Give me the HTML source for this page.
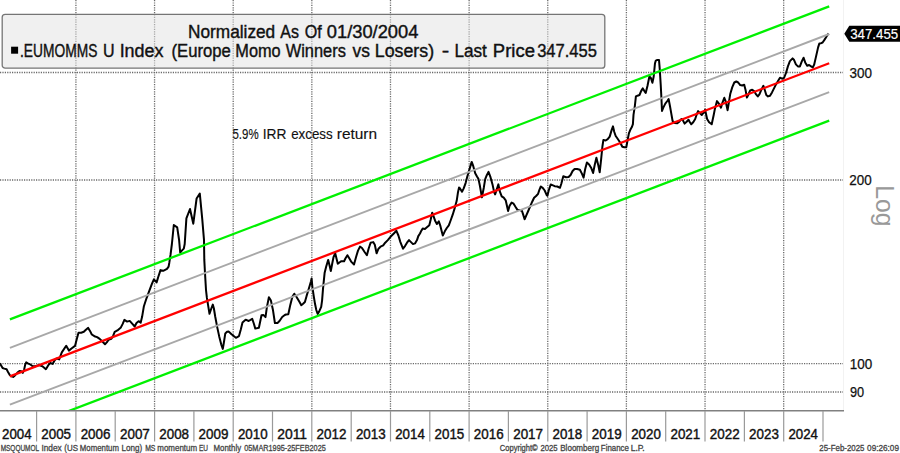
<!DOCTYPE html>
<html><head><meta charset="utf-8"><style>html,body{margin:0;padding:0;background:#fff;width:900px;height:453px;overflow:hidden}svg{display:block}</style></head><body><svg width="900" height="453" viewBox="0 0 900 453" font-family="Liberation Sans, sans-serif"><g stroke="#6a6a6a" stroke-width="1.3" stroke-dasharray="1.2 1.2"><line x1="0" y1="72.5" x2="844" y2="72.5"/><line x1="0" y1="180.0" x2="844" y2="180.0"/><line x1="0" y1="363.6" x2="844" y2="363.6"/><line x1="0" y1="392.0" x2="844" y2="392.0"/><line x1="75.92" y1="0" x2="75.92" y2="411"/><line x1="154.56" y1="0" x2="154.56" y2="411"/><line x1="233.2" y1="0" x2="233.2" y2="411"/><line x1="311.84" y1="0" x2="311.84" y2="411"/><line x1="390.48" y1="0" x2="390.48" y2="411"/><line x1="469.12" y1="0" x2="469.12" y2="411"/><line x1="547.76" y1="0" x2="547.76" y2="411"/><line x1="626.4" y1="0" x2="626.4" y2="411"/><line x1="705.04" y1="0" x2="705.04" y2="411"/><line x1="783.68" y1="0" x2="783.68" y2="411"/></g><line x1="843.5" y1="0" x2="843.5" y2="411" stroke="#f2f2f2" stroke-width="1"/><path d="M0.0,363.3 1.0,365.3 2.6,368.0 4.3,368.6 6.6,369.3 8.3,372.6 9.9,375.2 11.3,376.2 13.2,376.9 15.2,375.2 17.5,372.6 19.5,370.9 21.2,371.3 22.8,372.9 24.2,369.3 25.2,364.6 26.2,362.3 27.8,363.3 30.0,364.3 32.7,366.2 35.3,366.2 38.9,365.1 42.4,366.2 45.9,369.2 48.6,364.7 50.3,363.0 52.6,363.9 54.7,360.3 56.5,358.6 59.2,359.4 61.8,352.4 66.2,345.8 68.9,350.6 71.5,348.5 75.0,345.9 76.8,338.9 78.5,332.7 81.2,332.7 83.8,331.8 85.9,329.7 88.2,327.9 90.0,330.9 91.8,334.5 94.4,336.2 97.1,337.1 99.7,338.9 102.4,341.5 105.0,344.2 106.8,342.4 108.6,339.8 111.2,338.9 113.0,336.2 114.7,331.8 117.4,330.4 120.9,327.4 122.7,323.9 124.4,319.8 127.1,321.6 129.7,320.9 132.4,323.9 134.7,326.5 136.5,323.0 138.6,321.2 140.7,322.6 142.1,316.8 143.9,306.2 146.5,298.3 149.2,291.2 152.0,283.7 153.9,279.3 156.6,282.4 158.4,276.5 160.5,270.1 163.2,270.8 167.0,268.9 168.6,266.6 169.3,262.7 170.5,255.0 171.9,244.0 173.8,225.0 177.2,227.4 179.1,240.0 180.2,252.6 181.8,250.6 183.8,248.6 184.7,244.0 186.4,218.4 190.0,209.0 193.3,223.7 196.6,198.5 199.8,193.6 202.3,219.7 204.0,240.0 204.3,259.9 205.0,273.1 206.0,290.0 206.9,297.9 208.2,305.9 209.5,313.8 211.3,308.5 212.8,304.6 213.9,308.5 215.2,316.5 217.2,327.1 219.2,336.4 221.2,344.3 222.8,348.9 223.8,343.0 225.3,333.4 227.0,331.8 228.8,331.6 231.5,334.3 235.9,337.8 239.0,336.1 240.8,329.5 242.5,322.4 245.6,319.7 248.7,321.0 252.2,318.8 253.8,323.5 255.3,328.6 258.9,327.7 261.5,315.3 263.3,314.9 265.5,317.1 266.9,307.1 268.9,297.2 270.9,300.5 272.9,309.7 274.9,323.0 277.5,323.0 279.5,321.0 282.2,317.0 284.8,315.0 286.0,314.5 288.3,314.3 290.3,304.9 292.3,296.9 294.3,293.7 296.7,297.2 299.4,301.8 301.3,305.2 303.1,303.8 304.9,302.1 306.6,295.9 308.8,288.8 311.0,281.3 311.6,278.5 312.4,287.1 313.7,295.9 315.0,303.8 316.3,310.0 317.7,314.0 319.0,311.8 321.2,306.9 322.1,300.3 323.0,288.8 324.6,273.1 326.2,266.5 328.2,259.9 329.5,265.2 330.8,271.1 332.2,263.8 333.5,257.2 335.2,253.2 336.5,258.5 337.8,263.8 339.4,262.5 341.4,261.2 344.1,261.2 345.4,258.5 347.4,255.2 349.4,258.5 351.4,261.9 354.0,264.5 356.0,257.2 358.0,250.6 360.0,246.6 362.0,248.0 364.6,252.0 366.9,255.3 368.6,248.7 370.6,242.7 373.2,242.1 374.8,244.7 376.6,253.3 378.5,248.7 380.5,246.7 383.2,245.4 385.2,242.7 387.8,240.1 390.5,236.8 393.8,233.5 396.4,230.8 398.4,235.5 400.4,242.1 403.0,248.7 405.0,246.1 407.0,242.7 409.0,240.1 411.0,242.1 413.0,244.1 415.0,243.4 417.0,240.1 418.3,236.1 420.0,233.5 421.0,231.3 422.7,228.6 424.9,229.0 426.9,227.3 429.3,225.3 430.6,220.0 432.2,212.7 433.5,216.1 435.1,220.7 436.9,224.0 438.8,221.4 440.2,225.3 441.5,230.6 442.8,235.6 444.8,231.3 446.8,228.0 448.8,225.3 450.8,220.0 452.7,214.7 454.7,208.1 456.7,200.8 458.0,192.2 459.0,187.6 460.0,188.4 462.0,191.7 463.7,188.4 465.6,183.1 467.3,176.5 469.3,169.9 471.7,161.9 473.2,165.9 475.2,173.2 477.0,176.5 478.5,179.1 479.9,185.8 481.9,197.3 483.8,187.7 485.2,179.1 486.5,175.8 488.5,171.9 490.5,177.2 492.5,184.4 494.2,192.4 495.1,194.4 497.1,188.4 498.4,184.4 499.7,191.1 501.7,196.4 503.7,197.7 505.7,200.3 508.1,211.0 509.6,205.7 511.6,202.6 513.6,203.7 515.6,207.0 517.6,210.1 520.2,210.1 522.0,211.0 523.5,215.6 524.6,219.3 526.2,215.6 528.2,211.0 530.2,206.4 532.2,201.7 534.1,197.7 536.1,196.0 538.1,193.8 539.4,189.8 540.8,186.5 542.7,187.8 544.7,190.5 546.7,195.1 547.4,195.8 548.7,190.5 550.7,184.5 552.4,185.2 554.7,186.2 557.3,186.5 560.0,187.8 561.3,183.8 563.3,176.3 566.0,177.2 568.6,177.0 570.6,175.0 572.6,171.0 574.6,169.0 577.2,169.0 579.9,169.7 581.9,173.6 583.6,177.6 585.2,169.0 586.9,162.4 589.1,164.4 591.1,167.7 593.1,173.0 594.7,165.0 596.4,157.7 598.4,165.7 599.7,172.3 601.1,159.7 602.4,146.5 603.4,139.9 605.7,140.5 607.7,139.2 609.7,136.6 611.7,129.9 613.0,126.4 614.3,132.0 615.7,136.0 617.3,138.3 620.3,142.7 622.3,146.7 624.3,147.3 626.3,147.3 627.6,140.0 628.9,133.4 630.2,130.1 632.0,126.8 632.9,124.1 633.5,114.9 634.9,105.6 635.9,96.4 637.5,95.7 639.5,95.0 641.1,91.1 642.8,88.4 644.4,91.1 645.7,93.0 647.5,85.8 649.4,76.5 650.8,77.8 652.4,82.8 653.7,76.5 655.0,63.2 655.8,60.6 657.4,59.9 659.0,59.9 659.8,69.9 660.7,84.4 661.4,97.7 662.0,110.9 663.3,107.6 665.3,103.6 667.3,101.0 668.6,99.0 670.0,106.3 671.3,113.7 672.6,121.0 674.6,123.0 677.3,123.2 679.3,121.7 681.3,119.0 682.6,119.7 684.6,123.6 686.6,121.7 688.5,119.7 689.9,122.3 691.2,124.3 693.2,122.3 695.2,119.0 696.5,115.0 698.1,111.1 699.8,113.0 701.8,115.0 703.8,112.4 705.1,109.7 707.1,119.0 709.1,122.3 711.7,124.3 713.7,115.0 715.0,108.4 717.0,101.1 719.0,103.8 721.0,107.7 722.3,103.1 724.3,97.8 725.6,101.1 727.6,110.2 729.0,101.7 730.3,93.7 732.3,87.1 734.3,82.5 736.3,81.5 738.2,82.5 740.2,85.1 742.2,85.5 744.2,84.7 745.5,89.7 746.9,97.6 748.2,95.0 750.2,90.4 752.2,89.7 754.1,91.1 756.1,94.4 757.8,96.4 759.4,94.4 761.4,89.7 763.4,85.8 764.7,89.7 766.3,95.0 768.0,96.4 770.0,95.7 772.0,92.4 774.0,88.4 776.0,84.4 778.0,81.1 780.0,77.7 782.0,78.7 784.0,78.0 786.0,73.0 787.9,66.4 789.9,61.1 792.6,58.4 793.9,59.7 795.9,64.4 797.9,66.4 799.9,66.4 801.9,61.1 803.6,57.7 805.2,62.4 807.2,65.7 809.1,65.0 811.1,66.4 812.8,67.4 814.2,64.5 815.9,57.1 818.1,47.4 819.4,43.4 821.1,43.2 822.6,42.5 824.4,39.9 826.1,37.2 827.7,34.6 828.7,33.5" fill="none" stroke="#000" stroke-width="2.0" stroke-linejoin="round"/><defs><clipPath id="pc"><rect x="0" y="0" width="844" height="410.5"/></clipPath></defs><g clip-path="url(#pc)"><line x1="9.9" y1="319.4" x2="829.2" y2="6.4" stroke="#00f000" stroke-width="2.3"/><line x1="9.9" y1="433.5" x2="829.2" y2="120.6" stroke="#00f000" stroke-width="2.3"/><line x1="9.9" y1="347.8" x2="829.2" y2="34.0" stroke="#a8a8a8" stroke-width="1.9"/><line x1="9.9" y1="404.7" x2="829.2" y2="92.1" stroke="#a8a8a8" stroke-width="1.9"/><line x1="9.9" y1="376.35" x2="829.2" y2="63.2" stroke="#ff0000" stroke-width="2.3"/></g><line x1="0" y1="410.8" x2="844" y2="410.8" stroke="#808080" stroke-width="1.6"/><line x1="36.6" y1="411" x2="36.6" y2="441.5" stroke="#9a9a9a" stroke-width="1.2"/><line x1="75.9" y1="411" x2="75.9" y2="441.5" stroke="#9a9a9a" stroke-width="1.2"/><line x1="115.2" y1="411" x2="115.2" y2="441.5" stroke="#9a9a9a" stroke-width="1.2"/><line x1="154.6" y1="411" x2="154.6" y2="441.5" stroke="#9a9a9a" stroke-width="1.2"/><line x1="193.9" y1="411" x2="193.9" y2="441.5" stroke="#9a9a9a" stroke-width="1.2"/><line x1="233.2" y1="411" x2="233.2" y2="441.5" stroke="#9a9a9a" stroke-width="1.2"/><line x1="272.5" y1="411" x2="272.5" y2="441.5" stroke="#9a9a9a" stroke-width="1.2"/><line x1="311.8" y1="411" x2="311.8" y2="441.5" stroke="#9a9a9a" stroke-width="1.2"/><line x1="351.2" y1="411" x2="351.2" y2="441.5" stroke="#9a9a9a" stroke-width="1.2"/><line x1="390.5" y1="411" x2="390.5" y2="441.5" stroke="#9a9a9a" stroke-width="1.2"/><line x1="429.8" y1="411" x2="429.8" y2="441.5" stroke="#9a9a9a" stroke-width="1.2"/><line x1="469.1" y1="411" x2="469.1" y2="441.5" stroke="#9a9a9a" stroke-width="1.2"/><line x1="508.4" y1="411" x2="508.4" y2="441.5" stroke="#9a9a9a" stroke-width="1.2"/><line x1="547.8" y1="411" x2="547.8" y2="441.5" stroke="#9a9a9a" stroke-width="1.2"/><line x1="587.1" y1="411" x2="587.1" y2="441.5" stroke="#9a9a9a" stroke-width="1.2"/><line x1="626.4" y1="411" x2="626.4" y2="441.5" stroke="#9a9a9a" stroke-width="1.2"/><line x1="665.7" y1="411" x2="665.7" y2="441.5" stroke="#9a9a9a" stroke-width="1.2"/><line x1="705.0" y1="411" x2="705.0" y2="441.5" stroke="#9a9a9a" stroke-width="1.2"/><line x1="744.4" y1="411" x2="744.4" y2="441.5" stroke="#9a9a9a" stroke-width="1.2"/><line x1="783.7" y1="411" x2="783.7" y2="441.5" stroke="#9a9a9a" stroke-width="1.2"/><line x1="823.0" y1="411" x2="823.0" y2="441.5" stroke="#9a9a9a" stroke-width="1.2"/><g stroke="#111" stroke-width="0.4"><text x="2.02" y="438.8" font-size="14.1" fill="#111" textLength="29.56" lengthAdjust="spacingAndGlyphs">2004</text><text x="41.34" y="438.8" font-size="14.1" fill="#111" textLength="29.73" lengthAdjust="spacingAndGlyphs">2005</text><text x="80.66" y="438.8" font-size="14.1" fill="#111" textLength="29.76" lengthAdjust="spacingAndGlyphs">2006</text><text x="119.98" y="438.8" font-size="14.1" fill="#111" textLength="29.85" lengthAdjust="spacingAndGlyphs">2007</text><text x="159.30" y="438.8" font-size="14.1" fill="#111" textLength="29.75" lengthAdjust="spacingAndGlyphs">2008</text><text x="198.62" y="438.8" font-size="14.1" fill="#111" textLength="29.81" lengthAdjust="spacingAndGlyphs">2009</text><text x="237.94" y="438.8" font-size="14.1" fill="#111" textLength="29.69" lengthAdjust="spacingAndGlyphs">2010</text><text x="277.26" y="438.8" font-size="14.1" fill="#111" textLength="29.83" lengthAdjust="spacingAndGlyphs">2011</text><text x="316.58" y="438.8" font-size="14.1" fill="#111" textLength="29.85" lengthAdjust="spacingAndGlyphs">2012</text><text x="355.90" y="438.8" font-size="14.1" fill="#111" textLength="29.76" lengthAdjust="spacingAndGlyphs">2013</text><text x="395.22" y="438.8" font-size="14.1" fill="#111" textLength="29.56" lengthAdjust="spacingAndGlyphs">2014</text><text x="434.54" y="438.8" font-size="14.1" fill="#111" textLength="29.73" lengthAdjust="spacingAndGlyphs">2015</text><text x="473.86" y="438.8" font-size="14.1" fill="#111" textLength="29.76" lengthAdjust="spacingAndGlyphs">2016</text><text x="513.18" y="438.8" font-size="14.1" fill="#111" textLength="29.85" lengthAdjust="spacingAndGlyphs">2017</text><text x="552.50" y="438.8" font-size="14.1" fill="#111" textLength="29.75" lengthAdjust="spacingAndGlyphs">2018</text><text x="591.82" y="438.8" font-size="14.1" fill="#111" textLength="29.81" lengthAdjust="spacingAndGlyphs">2019</text><text x="631.14" y="438.8" font-size="14.1" fill="#111" textLength="29.69" lengthAdjust="spacingAndGlyphs">2020</text><text x="670.46" y="438.8" font-size="14.1" fill="#111" textLength="29.83" lengthAdjust="spacingAndGlyphs">2021</text><text x="709.78" y="438.8" font-size="14.1" fill="#111" textLength="29.85" lengthAdjust="spacingAndGlyphs">2022</text><text x="749.10" y="438.8" font-size="14.1" fill="#111" textLength="29.76" lengthAdjust="spacingAndGlyphs">2023</text><text x="788.42" y="438.8" font-size="14.1" fill="#111" textLength="29.56" lengthAdjust="spacingAndGlyphs">2024</text></g><g stroke="#111" stroke-width="0.25"><text x="849.49" y="77.5" font-size="14.1" fill="#111" textLength="22.44" lengthAdjust="spacingAndGlyphs">300</text><text x="849.32" y="185.0" font-size="14.1" fill="#111" textLength="22.40" lengthAdjust="spacingAndGlyphs">200</text><text x="849.68" y="368.6" font-size="14.1" fill="#111" textLength="22.45" lengthAdjust="spacingAndGlyphs">100</text><text x="849.90" y="397.0" font-size="14.1" fill="#111" textLength="14.20" lengthAdjust="spacingAndGlyphs">90</text></g><g transform="translate(876.2,0) rotate(90)"><text x="185.37" y="0" font-size="26" fill="#999" textLength="41.22" lengthAdjust="spacingAndGlyphs">Log</text></g><path d="M844.3,33.7 L849.3,25.7 L900,25.7 L900,41.7 L849.3,41.7 Z" fill="#000"/><text x="850.19" y="39.0" font-size="14.1" fill="#fff" textLength="48.06" lengthAdjust="spacingAndGlyphs" stroke="#fff" stroke-width="0.15">347.455</text><text x="232.44" y="138.7" font-size="15.3" fill="#111" textLength="26.17" lengthAdjust="spacingAndGlyphs" stroke="#111" stroke-width="0.15">5.9%</text><text x="262.73" y="138.7" font-size="15.3" fill="#111" textLength="23.71" lengthAdjust="spacingAndGlyphs" stroke="#111" stroke-width="0.15">IRR</text><text x="291.13" y="138.7" font-size="15.3" fill="#111" textLength="41.55" lengthAdjust="spacingAndGlyphs" stroke="#111" stroke-width="0.15">excess</text><text x="336.77" y="138.7" font-size="15.3" fill="#111" textLength="40.33" lengthAdjust="spacingAndGlyphs" stroke="#111" stroke-width="0.15">return</text><rect x="2.2" y="14.3" width="602.6" height="53.9" rx="3" ry="3" fill="#e2e2e2" fill-opacity="0.5" stroke="#757575" stroke-width="1.3"/><text x="187.99" y="37.9" font-size="18" fill="#111" textLength="87.23" lengthAdjust="spacingAndGlyphs" stroke="#111" stroke-width="0.4">Normalized</text><text x="280.27" y="37.9" font-size="18" fill="#111" textLength="18.61" lengthAdjust="spacingAndGlyphs" stroke="#111" stroke-width="0.4">As</text><text x="304.64" y="37.9" font-size="18" fill="#111" textLength="17.04" lengthAdjust="spacingAndGlyphs" stroke="#111" stroke-width="0.4">Of</text><text x="326.79" y="37.9" font-size="18" fill="#111" textLength="91.55" lengthAdjust="spacingAndGlyphs" stroke="#111" stroke-width="0.4">01/30/2004</text><rect x="11.1" y="46.7" width="7" height="7" fill="#000"/><text x="20.04" y="56.8" font-size="18" fill="#111" textLength="77.29" lengthAdjust="spacingAndGlyphs" stroke="#111" stroke-width="0.4">.EUMOMMS</text><text x="102.96" y="56.8" font-size="18" fill="#111" textLength="11.57" lengthAdjust="spacingAndGlyphs" stroke="#111" stroke-width="0.4">U</text><text x="119.65" y="56.8" font-size="18" fill="#111" textLength="43.85" lengthAdjust="spacingAndGlyphs" stroke="#111" stroke-width="0.4">Index</text><text x="171.47" y="56.8" font-size="18" fill="#111" textLength="59.27" lengthAdjust="spacingAndGlyphs" stroke="#111" stroke-width="0.4">(Europe</text><text x="235.36" y="56.8" font-size="18" fill="#111" textLength="45.32" lengthAdjust="spacingAndGlyphs" stroke="#111" stroke-width="0.4">Momo</text><text x="285.73" y="56.8" font-size="18" fill="#111" textLength="60.16" lengthAdjust="spacingAndGlyphs" stroke="#111" stroke-width="0.4">Winners</text><text x="352.44" y="56.8" font-size="18" fill="#111" textLength="17.39" lengthAdjust="spacingAndGlyphs" stroke="#111" stroke-width="0.4">vs</text><text x="374.84" y="56.8" font-size="18" fill="#111" textLength="59.26" lengthAdjust="spacingAndGlyphs" stroke="#111" stroke-width="0.4">Losers)</text><text x="441.80" y="56.8" font-size="18" fill="#111" textLength="7.50" lengthAdjust="spacingAndGlyphs" stroke="#111" stroke-width="0.4">-</text><text x="454.39" y="56.8" font-size="18" fill="#111" textLength="32.43" lengthAdjust="spacingAndGlyphs" stroke="#111" stroke-width="0.4">Last</text><text x="492.88" y="56.8" font-size="18" fill="#111" textLength="42.14" lengthAdjust="spacingAndGlyphs" stroke="#111" stroke-width="0.4">Price</text><text x="537.17" y="56.8" font-size="18" fill="#111" textLength="59.83" lengthAdjust="spacingAndGlyphs" stroke="#111" stroke-width="0.4">347.455</text><g><text x="0.67" y="450.6" font-size="8.8" fill="#444" textLength="38.45" lengthAdjust="spacingAndGlyphs" stroke="#444" stroke-width="0.3">MSQQUMOL</text><text x="41.43" y="450.6" font-size="8.8" fill="#444" textLength="20.36" lengthAdjust="spacingAndGlyphs" stroke="#444" stroke-width="0.3">Index</text><text x="64.31" y="450.6" font-size="8.8" fill="#444" textLength="13.66" lengthAdjust="spacingAndGlyphs" stroke="#444" stroke-width="0.3">(US</text><text x="79.86" y="450.6" font-size="8.8" fill="#444" textLength="39.06" lengthAdjust="spacingAndGlyphs" stroke="#444" stroke-width="0.3">Momentum</text><text x="121.44" y="450.6" font-size="8.8" fill="#444" textLength="20.66" lengthAdjust="spacingAndGlyphs" stroke="#444" stroke-width="0.3">Long)</text><text x="145.14" y="450.6" font-size="8.8" fill="#444" textLength="10.28" lengthAdjust="spacingAndGlyphs" stroke="#444" stroke-width="0.3">MS</text><text x="157.37" y="450.6" font-size="8.8" fill="#444" textLength="39.65" lengthAdjust="spacingAndGlyphs" stroke="#444" stroke-width="0.3">momentum</text><text x="198.97" y="450.6" font-size="8.8" fill="#444" textLength="9.04" lengthAdjust="spacingAndGlyphs" stroke="#444" stroke-width="0.3">EU</text><text x="213.55" y="450.6" font-size="8.8" fill="#444" textLength="27.56" lengthAdjust="spacingAndGlyphs" stroke="#444" stroke-width="0.3">Monthly</text><text x="244.21" y="450.6" font-size="8.8" fill="#444" textLength="81.59" lengthAdjust="spacingAndGlyphs" stroke="#444" stroke-width="0.3">05MAR1995-25FEB2025</text><text x="499.82" y="450.6" font-size="8.8" fill="#444" textLength="37.80" lengthAdjust="spacingAndGlyphs" stroke="#444" stroke-width="0.3">Copyright©</text><text x="540.41" y="450.6" font-size="8.8" fill="#444" textLength="17.21" lengthAdjust="spacingAndGlyphs" stroke="#444" stroke-width="0.3">2025</text><text x="560.24" y="450.6" font-size="8.8" fill="#444" textLength="38.98" lengthAdjust="spacingAndGlyphs" stroke="#444" stroke-width="0.3">Bloomberg</text><text x="600.85" y="450.6" font-size="8.8" fill="#444" textLength="28.00" lengthAdjust="spacingAndGlyphs" stroke="#444" stroke-width="0.3">Finance</text><text x="630.65" y="450.6" font-size="8.8" fill="#444" textLength="14.07" lengthAdjust="spacingAndGlyphs" stroke="#444" stroke-width="0.3">L.P.</text><text x="819.30" y="450.6" font-size="8.8" fill="#444" textLength="45.13" lengthAdjust="spacingAndGlyphs" stroke="#444" stroke-width="0.3">25-Feb-2025</text><text x="867.08" y="450.6" font-size="8.8" fill="#444" textLength="31.91" lengthAdjust="spacingAndGlyphs" stroke="#444" stroke-width="0.3">09:26:09</text></g></svg></body></html>
